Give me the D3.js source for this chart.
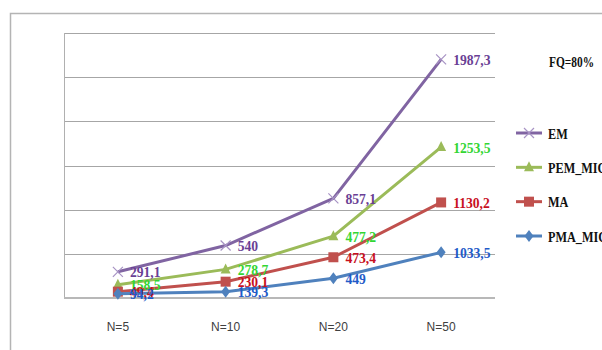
<!DOCTYPE html>
<html>
<head>
<meta charset="utf-8">
<script src="https://cdn.jsdelivr.net/npm/d3@7"></script>
<style>
  html, body { margin: 0; padding: 0; background: #fff; }
  svg { display: block; }
</style>
</head>
<body>
<svg id="chart" width="602" height="350"></svg>
<script>
// Categories (number of nodes)
const categories = ["N=5", "N=10", "N=20", "N=50"];

// Series values (stacked line chart, bottom to top)
const seriesNames = ["PMA_MIC", "MA", "PEM_MIC", "EM"];
const pmaMic = [94.2, 139.3, 449, 1033.5];
const ma     = [49.4, 230.1, 473.4, 1130.2];
const pemMic = [158.5, 278.7, 477.2, 1253.5];
const em     = [291.1, 540, 857.1, 1987.3];

// Y gridline values
const yTicks = [0, 1000, 2000, 3000, 4000, 5000, 6000];

const legendOrder = ["EM", "PEM_MIC", "MA", "PMA_MIC"];
const titleText = "FQ=80%";

const values = { "PMA_MIC": pmaMic, "MA": ma, "PEM_MIC": pemMic, "EM": em };
const lineColor  = { "EM": "#8064A2", "PEM_MIC": "#9BBB59", "MA": "#C0504D", "PMA_MIC": "#4F81BD" };
const labelColor = { "EM": "#6A3F95", "PEM_MIC": "#33D633", "MA": "#C8101E", "PMA_MIC": "#1F5BC8" };
const markerKind = { "EM": "x", "PEM_MIC": "triangle", "MA": "square", "PMA_MIC": "diamond" };

const rows = categories.map((c, i) => {
  const r = { cat: c };
  seriesNames.forEach(s => r[s] = values[s][i]);
  return r;
});
const stacked = d3.stack().keys(seriesNames)(rows);

const svg = d3.select("#chart");
const plot = { left: 64, right: 495, top: 33, bottom: 298 };

const x = d3.scaleBand().domain(categories).range([plot.left, plot.right]);
const y = d3.scaleLinear().domain([0, 6000]).range([plot.bottom, plot.top]);
const cx = c => x(c) + x.bandwidth() / 2;

// Outer frame
svg.append("path")
  .attr("d", `M10.5,350 V13.5 H602`)
  .attr("fill", "none").attr("stroke", "#b4b4b4").attr("stroke-width", 1.5);

// Gridlines
svg.append("g").selectAll("line").data(yTicks.slice(1)).join("line")
  .attr("x1", plot.left).attr("x2", plot.right)
  .attr("y1", d => Math.round(y(d)) + 0.5).attr("y2", d => Math.round(y(d)) + 0.5)
  .attr("stroke", "#a6a6a6").attr("stroke-width", 1);

// Left axis line
svg.append("line")
  .attr("x1", plot.left + 0.5).attr("x2", plot.left + 0.5)
  .attr("y1", plot.top).attr("y2", plot.bottom)
  .attr("stroke", "#b0b0b0").attr("stroke-width", 1);

// Bottom axis
const xAxis = svg.append("g")
  .attr("transform", `translate(0,${plot.bottom})`)
  .call(d3.axisBottom(x).tickSize(0).tickPadding(24));
xAxis.select(".domain").attr("stroke", "#b8b8b8").attr("stroke-width", 2)
  .attr("d", `M${plot.left},0H${plot.right}`);
xAxis.selectAll("text")
  .attr("font-family", "Liberation Sans, Arial, sans-serif")
  .attr("font-size", 12).attr("fill", "#404040");

// Marker drawing
function drawMarker(g, kind, color) {
  if (kind === "x") {
    g.append("path").attr("d", "M-5,-5L5,5M-5,5L5,-5")
      .attr("stroke", "#a793c4").attr("stroke-width", 1.2).attr("fill", "none");
  } else if (kind === "triangle") {
    g.append("path").attr("d", "M0,-6L5,4L-5,4Z").attr("fill", color);
  } else if (kind === "square") {
    g.append("rect").attr("x", -5).attr("y", -5).attr("width", 10).attr("height", 10).attr("fill", color);
  } else if (kind === "diamond") {
    g.append("path").attr("d", "M0,-6L4.5,0L0,6L-4.5,0Z").attr("fill", color);
  }
}

const line = d3.line().x(d => cx(d.data.cat)).y(d => y(d[1]));

// Lines and markers, drawn top series first so lower series sit above
const layers = svg.append("g");
stacked.slice().reverse().forEach(layer => {
  const name = layer.key;
  layers.append("path").datum(layer)
    .attr("d", line).attr("fill", "none")
    .attr("stroke", lineColor[name]).attr("stroke-width", 3)
    .attr("stroke-linejoin", "round");
  layer.forEach(d => {
    const g = layers.append("g").attr("transform", `translate(${cx(d.data.cat)},${y(d[1])})`);
    drawMarker(g, markerKind[name], lineColor[name]);
  });
});

// Data labels
const labels = svg.append("g");
stacked.slice().reverse().forEach(layer => {
  const name = layer.key;
  layer.forEach(d => {
    labels.append("text")
      .attr("transform", `translate(${cx(d.data.cat) + 12},${y(d[1])}) scale(0.88,1)`)
      .attr("dy", "0.36em")
      .attr("font-family", "Liberation Serif, Times New Roman, serif")
      .attr("font-weight", "bold").attr("font-size", 15.5)
      .attr("fill", labelColor[name])
      .text(String(d.data[name]).replace(".", ","));
  });
});

// Title
svg.append("text")
  .attr("transform", "translate(549,62) scale(0.76,1)")
  .attr("dy", "0.36em")
  .attr("font-family", "Liberation Serif, Times New Roman, serif")
  .attr("font-weight", "bold").attr("font-size", 15).attr("fill", "#111")
  .text(titleText);

// Legend
const legend = svg.append("g");
const legendY = d3.scalePoint().domain(legendOrder).range([133, 236]);
legendOrder.forEach(name => {
  const g = legend.append("g").attr("transform", `translate(0,${legendY(name)})`);
  g.append("line").attr("x1", 516).attr("x2", 542)
    .attr("stroke", lineColor[name]).attr("stroke-width", 3);
  const m = g.append("g").attr("transform", "translate(529,0)");
  drawMarker(m, markerKind[name], lineColor[name]);
  g.append("text")
    .attr("transform", "translate(548,0) scale(0.79,1)")
    .attr("dy", "0.36em")
    .attr("font-family", "Liberation Serif, Times New Roman, serif")
    .attr("font-weight", "bold").attr("font-size", 15.5).attr("fill", "#111")
    .text(name);
});
</script>
</body>
</html>
